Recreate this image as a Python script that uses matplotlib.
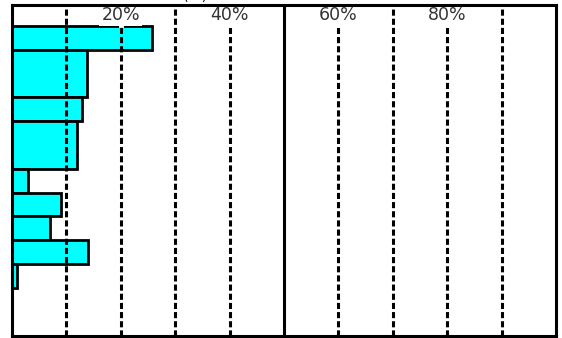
import matplotlib
matplotlib.use("Agg")
import matplotlib.pyplot as plt

# Data
categories = ["A", "B", "C", "D", "E", "F", "G", "H", "I"]
row_spans = [1, 2, 1, 2, 1, 1, 1, 1, 1]   # relative bar thickness
values = [25.8, 13.8, 12.8, 11.9, 2.9, 9.0, 6.9, 14.0, 0.85]
tick_values = [20, 40, 60, 80]
tick_labels = ["20%", "40%", "60%", "80%"]
title_text = "図　回答者の属性別構成比(%)"

W, H = 562, 338
fig = plt.figure(figsize=(W / 100, H / 100), dpi=100)
ax = fig.add_axes([12 / W, 2 / H, (556 - 12) / W, (336 - 5) / H])

top_offset = 0.88
total_units = 13.9
ax.set_xlim(0, 100)
ax.set_ylim(total_units, 0)

starts = []
pos = top_offset
for s in row_spans:
    starts.append(pos)
    pos += s
ax.barh(starts, values, height=row_spans, align="edge",
        color="#00FFFF", edgecolor="black", linewidth=2.0, zorder=2)

# grid lines
for g in range(10, 100, 10):
    if g == 50:
        ax.axvline(g, color="black", lw=2.2, zorder=3)
    else:
        ax.axvline(g, color="black", lw=2.2, linestyle=(0, (2, 1)), zorder=3)

# tick labels inside the plot area with white background
for v, lab in zip(tick_values, tick_labels):
    ax.text(v, 0.42, lab, ha="center", va="center", fontsize=12.5,
            color="#333333", zorder=4,
            bbox=dict(boxstyle="square,pad=0.12", fc="white", ec="none"))
    ax.plot([v, v], [0.02, top_offset - 0.02], color="white", lw=3.5, zorder=3.5)

ax.set_xticks([])
ax.set_yticks([])
for sp in ax.spines.values():
    sp.set_linewidth(2.2)
    sp.set_zorder(5)

fig.text(0.0, 1 - 3 / H, title_text, ha="left", va="bottom", fontsize=11,
         family=["Noto Sans CJK JP", "DejaVu Sans"])

fig.savefig("out.png", dpi=100)
